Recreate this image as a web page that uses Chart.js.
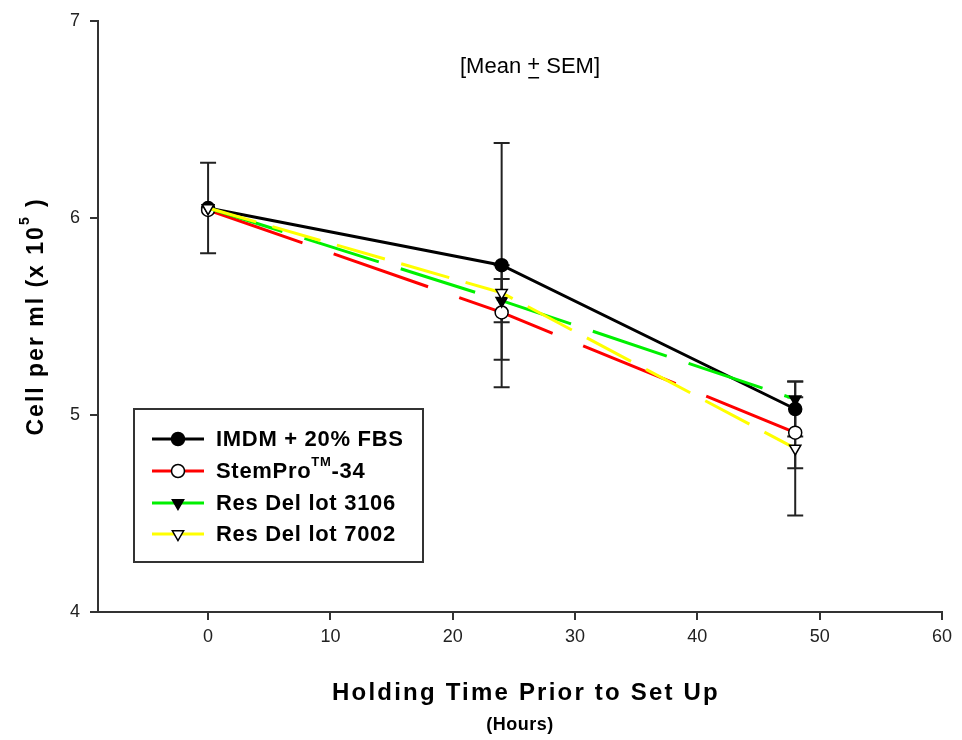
<!DOCTYPE html>
<html>
<head>
<meta charset="utf-8">
<script src="https://cdn.jsdelivr.net/npm/chart.js@4.4.0/dist/chart.umd.min.js"></script>
<style>
  html, body { margin: 0; padding: 0; background: #fff; }
  #wrap { width: 962px; height: 740px; }
</style>
</head>
<body>
<div id="wrap"><canvas id="chart" width="962" height="740"></canvas></div>
<script>
// Holding time (hours)
var hours = [0, 24, 48];

// Cell per ml (x 10^5), mean and SEM per medium
var imdm = [6.05, 5.76, 5.03];
var imdmSem = [0.23, 0.62, 0.14];
var stempro = [6.04, 5.52, 4.91];
var stemproSem = [0, 0.24, 0.18];
var res3106 = [6.05, 5.58, 5.08];
var res3106Sem = [0, 0.11, 0];
var res7002 = [6.05, 5.62, 4.83];
var res7002Sem = [0, 0, 0.34];

var xTicks = [0, 10, 20, 30, 40, 50, 60];
var yTicks = [4, 5, 6, 7];

var FONT = '"Liberation Sans", Arial, sans-serif';
var AXIS = '#333';

function pts(values) {
  var out = [];
  for (var i = 0; i < hours.length; i++) out.push({ x: hours[i], y: values[i] });
  return out;
}

function series(label, values, sem, color, dash, style, fill, order) {
  return {
    label: label,
    data: pts(values),
    sem: sem,
    order: order,
    borderColor: color,
    borderWidth: 3,
    borderDash: dash,
    pointStyle: style.shape,
    rotation: style.rot,
    pointRadius: 6.5,
    pointBackgroundColor: fill,
    pointBorderColor: '#000',
    pointBorderWidth: 1.5,
    tension: 0
  };
}

var datasets = [
  series('IMDM + 20% FBS', imdm, imdmSem, '#000000', [], { shape: 'circle', rot: 0 }, '#000', 4),
  series('StemPro-34', stempro, stemproSem, '#ff0000', [100, 33], { shape: 'circle', rot: 0 }, '#fff', 3),
  series('Res Del lot 3106', res3106, res3106Sem, '#00f000', [78, 23], { shape: 'triangle', rot: 180 }, '#000', 2),
  series('Res Del lot 7002', res7002, res7002Sem, '#ffff00', [50, 17], { shape: 'triangle', rot: 180 }, '#fff', 1)
];

// error bars (mean +/- SEM), drawn under the lines
var errorBars = {
  id: 'errorBars',
  beforeDatasetsDraw: function (chart) {
    var ctx = chart.ctx, xs = chart.scales.x, ys = chart.scales.y;
    ctx.save();
    ctx.strokeStyle = '#222';
    ctx.lineWidth = 2;
    chart.data.datasets.forEach(function (ds) {
      ds.data.forEach(function (p, i) {
        var e = ds.sem[i];
        if (!e) return;
        var px = xs.getPixelForValue(p.x);
        var top = ys.getPixelForValue(p.y + e);
        var bot = ys.getPixelForValue(p.y - e);
        ctx.beginPath();
        ctx.moveTo(px, top); ctx.lineTo(px, bot);
        ctx.moveTo(px - 8, top); ctx.lineTo(px + 8, top);
        ctx.moveTo(px - 8, bot); ctx.lineTo(px + 8, bot);
        ctx.stroke();
      });
    });
    ctx.restore();
  }
};

// titles, note and boxed legend
var decorations = {
  id: 'decorations',
  afterDraw: function (chart) {
    var ctx = chart.ctx, area = chart.chartArea;
    ctx.save();
    ctx.fillStyle = '#000';
    ctx.textBaseline = 'middle';

    // note at top
    ctx.font = '22px ' + FONT;
    ctx.textAlign = 'left';
    var a = '[Mean ', b = '+', c = ' SEM]';
    var wa = ctx.measureText(a).width, wb = ctx.measureText(b).width, wc = ctx.measureText(c).width;
    var sx = 530 - (wa + wb + wc) / 2;
    ctx.fillText(a, sx, 67);
    ctx.fillText(b, sx + wa, 65);
    ctx.fillText(c, sx + wa + wb, 67);
    ctx.fillRect(sx + wa + 1, 77, wb - 2, 1.5);

    // x axis title
    var cx = (area.left + area.right) / 2;
    ctx.textAlign = 'center';
    ctx.font = 'bold 24px ' + FONT;
    ctx.letterSpacing = '2.2px';
    ctx.fillText('Holding Time Prior to Set Up', cx + 6, 693);
    ctx.font = 'bold 18px ' + FONT;
    ctx.letterSpacing = '0.5px';
    ctx.fillText('(Hours)', cx, 725);

    // y axis title with superscript
    ctx.save();
    ctx.translate(37, (area.top + area.bottom) / 2);
    ctx.rotate(-Math.PI / 2);
    ctx.letterSpacing = '2px';
    var t1 = 'Cell per ml (x 10', t3 = ')';
    ctx.font = 'bold 23px ' + FONT;
    var w1 = ctx.measureText(t1).width;
    ctx.font = 'bold 14px ' + FONT;
    var w2 = ctx.measureText('5').width;
    ctx.font = 'bold 23px ' + FONT;
    var w3 = ctx.measureText(' ' + t3).width;
    var st = -(w1 + w2 + w3) / 2;
    ctx.textAlign = 'left';
    ctx.fillText(t1, st, 0);
    ctx.font = 'bold 14px ' + FONT;
    ctx.fillText('5', st + w1, -12);
    ctx.font = 'bold 23px ' + FONT;
    ctx.fillText(' ' + t3, st + w1 + w2, 0);
    ctx.restore();

    // legend box
    ctx.letterSpacing = '0px';
    ctx.strokeStyle = AXIS;
    ctx.lineWidth = 2;
    ctx.strokeRect(134, 409, 289, 153);
    var rows = [439, 471, 503, 534];
    chart.data.datasets.forEach(function (ds, i) {
      var y = rows[i];
      ctx.strokeStyle = ds.borderColor;
      ctx.lineWidth = 3;
      ctx.beginPath();
      ctx.moveTo(152, y); ctx.lineTo(204, y);
      ctx.stroke();
      ctx.save();
      ctx.fillStyle = ds.pointBackgroundColor;
      ctx.strokeStyle = '#000';
      ctx.lineWidth = 1.5;
      Chart.helpers.drawPoint(ctx, { pointStyle: ds.pointStyle, rotation: ds.rotation, radius: 6.5, borderWidth: 1.5 }, 178, y);
      ctx.restore();
      ctx.fillStyle = '#000';
      ctx.font = 'bold 22px ' + FONT;
      ctx.textAlign = 'left';
      ctx.letterSpacing = '0.7px';
      if (i === 1) {
        var p1 = 'StemPro';
        ctx.fillText(p1, 216, y + 1);
        var w = ctx.measureText(p1).width;
        ctx.font = 'bold 13px ' + FONT;
        ctx.fillText('TM', 216 + w, y - 9);
        var wt = ctx.measureText('TM').width;
        ctx.font = 'bold 22px ' + FONT;
        ctx.fillText('-34', 216 + w + wt, y + 1);
      } else {
        ctx.fillText(ds.label, 216, y + 1);
      }
    });
    ctx.restore();
  }
};

var chart = new Chart(document.getElementById('chart'), {
  type: 'line',
  data: { datasets: datasets },
  options: {
    responsive: false,
    animation: false,
    layout: { padding: { left: 0, right: 20, top: 16, bottom: 0 } },
    plugins: {
      legend: { display: false },
      tooltip: { enabled: false }
    },
    scales: {
      x: {
        type: 'linear',
        min: -9,
        max: 60,
        afterBuildTicks: function (scale) {
          scale.ticks = xTicks.map(function (v) { return { value: v }; });
        },
        afterFit: function (scale) { scale.height = 128; },
        grid: { drawOnChartArea: false, drawTicks: true, tickLength: 8, color: AXIS, lineWidth: 2 },
        border: { display: true, color: AXIS, width: 2 },
        ticks: { color: '#222', padding: 6, font: { family: FONT, size: 18 } }
      },
      y: {
        type: 'linear',
        min: 4,
        max: 7,
        afterBuildTicks: function (scale) {
          scale.ticks = yTicks.map(function (v) { return { value: v }; });
        },
        afterFit: function (scale) { scale.width = 98; },
        grid: { drawOnChartArea: false, drawTicks: true, tickLength: 8, color: AXIS, lineWidth: 2 },
        border: { display: true, color: AXIS, width: 2 },
        ticks: { color: '#222', padding: 10, font: { family: FONT, size: 18 } }
      }
    }
  },
  plugins: [errorBars, decorations]
});
</script>
</body>
</html>
